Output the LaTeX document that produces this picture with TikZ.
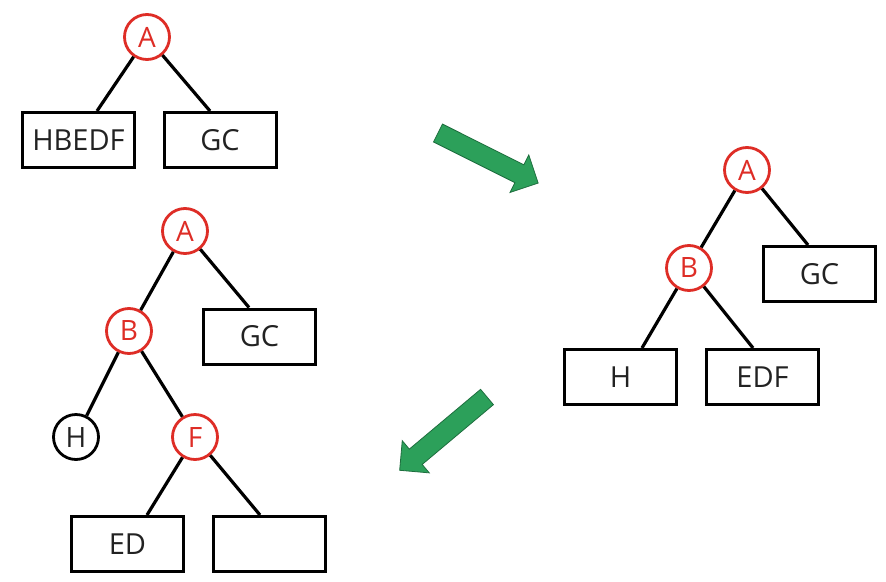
\documentclass[tikz,border=0pt]{standalone}
\usepackage{fontspec}
\setmainfont{Open Sans}
\usetikzlibrary{calc}
\definecolor{nodered}{RGB}{222,45,38}
\definecolor{arrowgreen}{RGB}{44,160,90}
\definecolor{arrowedge}{RGB}{30,110,62}
\definecolor{txt}{RGB}{34,34,34}
\tikzset{
  rnode/.style={circle, draw=nodered, line width=2.8pt, text=nodered, minimum size=45pt, inner sep=0pt, font=\fontsize{28}{28}\selectfont},
  knode/.style={circle, draw=black, line width=2.8pt, text=txt, minimum size=45pt, inner sep=0pt, font=\fontsize{28}{28}\selectfont},
  box/.style={rectangle, draw=black, line width=3pt, minimum width=112pt, minimum height=55pt, inner sep=0pt, text=txt, font=\fontsize{29}{29}\selectfont},
  edge/.style={draw=black, line width=3.2pt},
  bigarrow/.style={fill=arrowgreen, draw=arrowedge, line width=0.8pt, line join=miter}
}
\begin{document}
\begin{tikzpicture}[x=1pt,y=-1pt]
\useasboundingbox[fill=white] (0,0) rectangle (886,581);

% Tree 1
\node[rnode] (a1) at (147,37) {A};
\node[box] (hbedf) at (78.5,140) {HBEDF};
\node[box] (gc1) at (220,140) {GC};
\coordinate (hbedfTop) at ($(hbedf.north)+(18.5,0)$);
\coordinate (gc1Top) at ($(gc1.north)+(-10,0)$);
\draw[edge] (a1) -- (hbedfTop);
\draw[edge] (a1) -- (gc1Top);

% Tree 2 (bottom left)
\node[rnode] (a2) at (185,231) {A};
\node[rnode] (b2) at (129,331) {B};
\node[box] (gc2) at (259.5,336.5) {GC};
\node[knode] (h2) at (76,437) {H};
\node[rnode] (f2) at (195,437) {F};
\node[box] (ed2) at (127.5,544) {ED};
\node[box] (empty2) at (269.5,544) {};
\coordinate (gc2Top) at ($(gc2.north)+(-10.5,0)$);
\coordinate (ed2Top) at ($(ed2.north)+(19.5,0)$);
\coordinate (empty2Top) at ($(empty2.north)+(-9.5,0)$);
\draw[edge] (a2) -- (b2);
\draw[edge] (a2) -- (gc2Top);
\draw[edge] (b2) -- (h2);
\draw[edge] (b2) -- (f2);
\draw[edge] (f2) -- (ed2Top);
\draw[edge] (f2) -- (empty2Top);

% Tree 3 (right)
\node[rnode] (a3) at (747,170) {A};
\node[rnode] (b3) at (689,268) {B};
\node[box] (gc3) at (819.5,274) {GC};
\node[box] (h3) at (620.5,377) {H};
\node[box] (edf3) at (762.5,377) {EDF};
\coordinate (gc3Top) at ($(gc3.north)+(-11.5,0)$);
\coordinate (h3Top) at ($(h3.north)+(21.5,0)$);
\coordinate (edf3Top) at ($(edf3.north)+(-9.5,0)$);
\draw[edge] (a3) -- (b3);
\draw[edge] (a3) -- (gc3Top);
\draw[edge] (b3) -- (h3Top);
\draw[edge] (b3) -- (edf3Top);

% Green block arrows
\begin{scope}[shift={(438,133)}, rotate=-26.57]
  \path[bigarrow] (0,-10) -- (91,-10) -- (91,-21) -- (112,0) -- (91,21) -- (91,10) -- (0,10) -- cycle;
\end{scope}
\begin{scope}[shift={(487,397)}, rotate=-140]
  \path[bigarrow] (0,-10) -- (93,-10) -- (93,-21) -- (114,0) -- (93,21) -- (93,10) -- (0,10) -- cycle;
\end{scope}
\end{tikzpicture}
\end{document}
